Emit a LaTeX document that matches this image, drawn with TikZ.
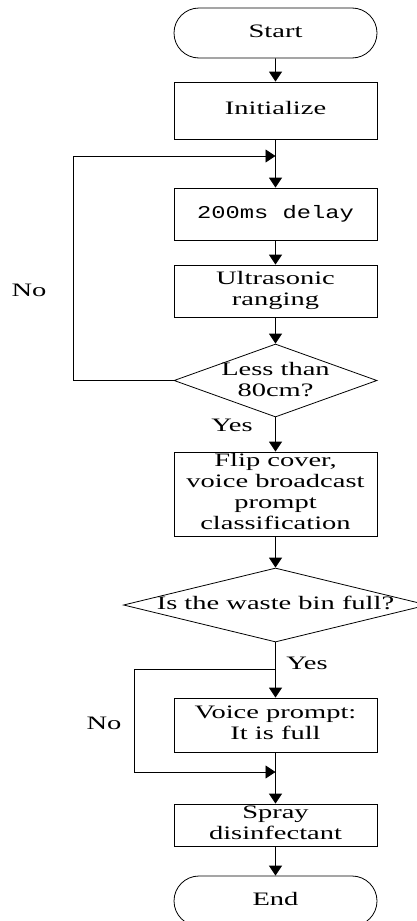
\documentclass[tikz,border=0pt]{standalone}
\usepackage{fontspec}
\setmainfont{Liberation Serif}
\newfontfamily\monof{Liberation Mono}
\usetikzlibrary{arrows.meta,shapes.misc,shapes.geometric}
\newcommand{\wide}[1]{\scalebox{1.5}[1]{\begin{tabular}{@{}c@{}}#1\end{tabular}}}
\begin{document}
\begin{tikzpicture}[x=1pt,y=-1pt,
  font=\fontsize{19}{21}\selectfont,
  every node/.style={inner sep=0pt},
  box/.style={draw, line width=0.8pt, minimum width=203pt},
  term/.style={draw, line width=0.8pt, rounded rectangle, rounded rectangle arc length=180, minimum width=203pt, minimum height=50pt},
  dia/.style={draw, line width=0.8pt, diamond},
  conn/.style={line width=0.8pt, -{Triangle[length=10pt,width=13pt]}},
  lbl/.style={}]
\useasboundingbox (0,0) rectangle (416,921);
\node[term] (start) at (275.5,33) {\wide{Start}};
\node[box, minimum height=57pt] (init) at (275.5,110.5) {\wide{Initialize}};
\coordinate (j1) at (275.5,156);
\node[box, minimum height=52pt] (delay) at (275.5,214) {\scalebox{1.32}[1]{\monof\fontsize{18}{21}\selectfont 200ms delay}};
\node[box, minimum height=52pt] (ultra) at (275.5,291) {\wide{Ultrasonic\\ranging}};
\node[dia, minimum width=203pt, minimum height=73pt] (dec1) at (275.5,380.5) {};
\node (dec1t) at (275.5,382) {\wide{Less than\\80cm?}};
\node[box, minimum height=84pt] (flip) at (275.5,494) {\wide{Flip cover,\\voice broadcast\\prompt\\classification}};
\node[dia, minimum width=304pt, minimum height=74pt] (dec2) at (275.5,605) {};
\node (dec2t) at (275.5,605) {\wide{Is the waste bin full?}};
\coordinate (j2) at (275.5,669);
\node[box, minimum height=54pt] (voice) at (275.5,725) {\wide{Voice prompt:\\It is full}};
\coordinate (j3) at (275.5,772);
\node[box, minimum height=42pt] (spray) at (275.5,825) {\wide{Spray\\disinfectant}};
\node[term] (end) at (275.5,901) {\wide{End}};
\node[lbl] (no1) at (29,292) {\wide{No}};
\node[lbl] (yes1) at (232,427) {\wide{Yes}};
\node[lbl] (yes2) at (307,665) {\wide{Yes}};
\node[lbl] (no2) at (104,725) {\wide{No}};
\coordinate (l1) at (73,380.5);
\coordinate (l2) at (73,156);
\coordinate (b1) at (134,669);
\coordinate (b2) at (134,772);
\draw[conn] (start) -- (init);
\draw[conn] (init) -- (delay);
\draw[conn] (delay) -- (ultra);
\draw[conn] (ultra) -- (dec1);
\draw[conn] (dec1) -- (flip);
\draw[conn] (flip) -- (dec2);
\draw[conn] (dec2) -- (voice);
\draw[conn] (voice) -- (spray);
\draw[conn] (spray) -- (end);
\draw[conn] (dec1.west) -- (l1) -- (l2) -- (j1);
\draw[conn] (j2) -- (b1) -- (b2) -- (j3);
\end{tikzpicture}
\end{document}
